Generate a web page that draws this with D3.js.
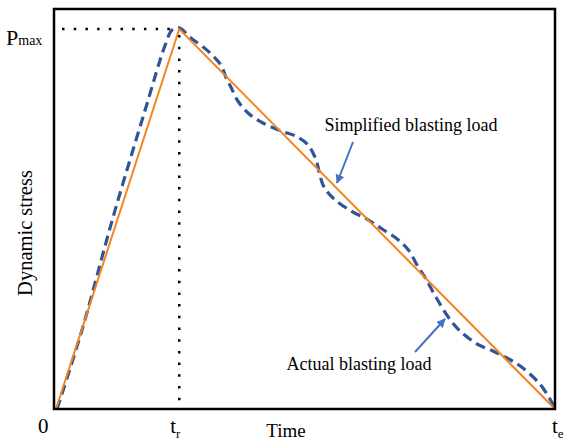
<!DOCTYPE html>
<html>
<head>
<meta charset="utf-8">
<script src="https://cdn.jsdelivr.net/npm/d3@7"></script>
<style>
  html, body { margin: 0; padding: 0; background: #fff; }
  svg { display: block; font-family: "Liberation Serif", "Times New Roman", serif; }
</style>
</head>
<body>
<svg id="chart" width="564" height="443"></svg>
<script>
"use strict";

// time as % of te, stress as % of full axis
var tr = 25;
var pMax = 95;

var simplifiedT = [0.4, tr, 100];
var simplifiedP = [0, pMax, 0];

var actualT = [0.6, 5.6, 11.8, 18.2, 22.2, 23.6, 25.0, 27.1, 30.9, 33.3, 34.3, 35.3, 36.7,
    38.9, 41.7, 45.3, 48.1, 50.5, 51.7, 52.5, 53.1, 53.9, 55.9, 59.3, 62.7, 65.5, 68.5,
    70.7, 72.7, 74.1, 76.0, 78.4, 80.8, 84.4, 87.6, 90.0, 93.0, 96.8, 99.0, 100];
var actualP = [0, 19.8, 48, 74.8, 91, 94.8, 95.3, 93, 89.3, 86, 83, 80.5, 77,
    73.8, 71.5, 69.5, 68.3, 66.3, 64, 61.5, 58.3, 55.5, 52.5, 49.5, 47.3, 45, 42.5,
    39.8, 35.5, 32.8, 28.5, 23.5, 19.8, 16.3, 14.5, 13, 10.8, 6.5, 2.5, 0];

var tickLabels = [
    { t: 0, main: "0", sub: "", dx: -16 },
    { t: tr, main: "t", sub: "r", dx: -9 },
    { t: 100, main: "t", sub: "e", dx: -3 }
];

var labelSimplified = "Simplified blasting load";
var labelActual = "Actual blasting load";

var svg = d3.select("#chart");

var x = d3.scaleLinear().domain([0, 100]).range([54, 555]);
var y = d3.scaleLinear().domain([0, 100]).range([409, 9]);

var defs = svg.append("defs");
defs.append("marker")
    .attr("id", "head")
    .attr("viewBox", "0 0 10 10")
    .attr("refX", 9)
    .attr("refY", 5)
    .attr("markerWidth", 4.5)
    .attr("markerHeight", 4.5)
    .attr("markerUnits", "strokeWidth")
    .attr("orient", "auto")
    .append("path")
    .attr("d", "M0,0 L10,5 L0,10 Z")
    .attr("fill", "#4472c4");

// dotted guides to the peak
svg.append("path")
    .attr("d", d3.line()([[x(1.6), y(pMax)], [x(tr), y(pMax)]]))
    .attr("stroke", "#000")
    .attr("stroke-width", 2.5)
    .attr("stroke-dasharray", "2.5 9.2")
    .attr("fill", "none");
svg.append("path")
    .attr("d", d3.line()([[x(tr), y(pMax) + 6], [x(tr), y(0)]]))
    .attr("stroke", "#000")
    .attr("stroke-width", 2.5)
    .attr("stroke-dasharray", "2.5 9.2")
    .attr("fill", "none");

var line = d3.line()
    .x(function (d) { return x(d[0]); })
    .y(function (d) { return y(d[1]); });

svg.append("path")
    .attr("d", d3.line().x(function (d) { return x(d[0]); }).y(function (d) { return y(d[1]); })
        .curve(d3.curveCatmullRom.alpha(0.5))(d3.zip(actualT, actualP)))
    .attr("fill", "none")
    .attr("stroke", "#2f5597")
    .attr("stroke-width", 3.2)
    .attr("stroke-dasharray", "10 5.5");

svg.append("path")
    .attr("d", line(d3.zip(simplifiedT, simplifiedP)))
    .attr("fill", "none")
    .attr("stroke", "#f7831f")
    .attr("stroke-width", 2);

// frame
svg.append("rect")
    .attr("x", x(0))
    .attr("y", y(100))
    .attr("width", x(100) - x(0))
    .attr("height", y(0) - y(100))
    .attr("fill", "none")
    .attr("stroke", "#000")
    .attr("stroke-width", 2.5);

// tick labels on the time axis
var ticks = svg.selectAll(".tick")
    .data(tickLabels)
    .enter()
    .append("text")
    .attr("class", "tick")
    .attr("x", function (d) { return x(d.t) + d.dx; })
    .attr("y", 433)
    .attr("font-size", 21);
ticks.append("tspan").text(function (d) { return d.main; });
ticks.append("tspan")
    .attr("font-size", 13)
    .attr("dy", 5)
    .text(function (d) { return d.sub; });

var pLabel = svg.append("text")
    .attr("x", 6)
    .attr("y", 45)
    .attr("font-size", 22);
pLabel.append("tspan").text("P");
pLabel.append("tspan").attr("font-size", 14).text("max");

svg.append("text")
    .attr("x", x(46.3))
    .attr("y", 437)
    .attr("text-anchor", "middle")
    .attr("font-size", 19)
    .text("Time");

svg.append("text")
    .attr("transform", "translate(32,233) rotate(-90)")
    .attr("text-anchor", "middle")
    .attr("font-size", 20.5)
    .text("Dynamic stress");

svg.append("text")
    .attr("x", 411)
    .attr("y", 131)
    .attr("text-anchor", "middle")
    .attr("font-size", 18)
    .text(labelSimplified);

svg.append("text")
    .attr("x", 359)
    .attr("y", 370)
    .attr("text-anchor", "middle")
    .attr("font-size", 18)
    .text(labelActual);

// pointer arrows
svg.append("path")
    .attr("d", d3.line()([[353, 142], [337, 183]]))
    .attr("stroke", "#4472c4")
    .attr("stroke-width", 2)
    .attr("marker-end", "url(#head)");
svg.append("path")
    .attr("d", d3.line()([[415, 352], [445, 319]]))
    .attr("stroke", "#4472c4")
    .attr("stroke-width", 2)
    .attr("marker-end", "url(#head)");
</script>
</body>
</html>
